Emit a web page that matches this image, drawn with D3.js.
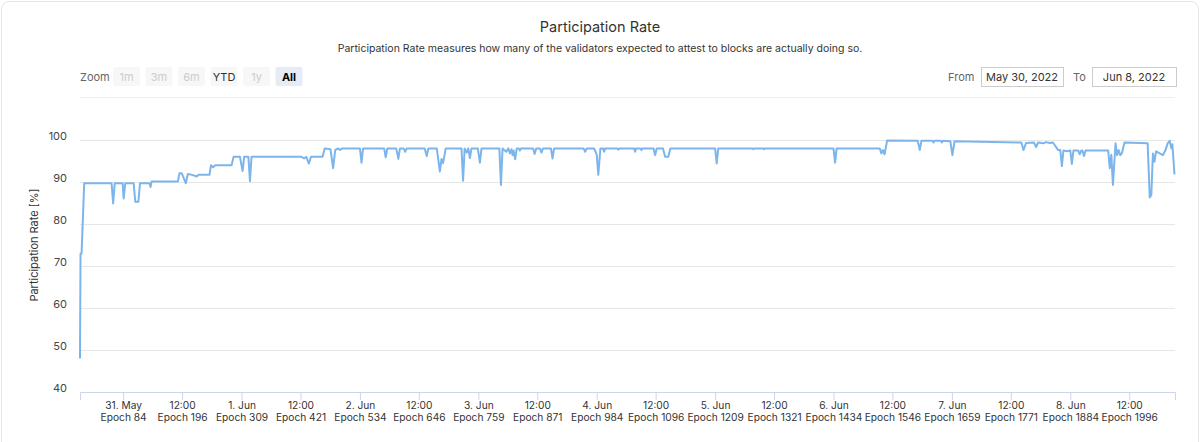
<!DOCTYPE html>
<html>
<head>
<meta charset="utf-8">
<script src="https://cdn.jsdelivr.net/npm/d3@7"></script>
<style>
  body { margin: 0; background: #fff; }
  svg { display: block; font-family: Inter, "Noto Sans", sans-serif; }
</style>
</head>
<body>
<script>
// Participation rate per epoch
const points = [
  [2,48.0],[3,73.0],[5,73.0],[10,89.7],
  [62,89.7],[65,84.9],[68,89.7],
  [83,89.7],[85,86.1],[88,89.7],
  [104,89.7],[107,85.3],[113,85.3],[116,89.7],
  [134,89.7],[136,88.8],[138,90.1],
  [188,90.1],[191,92.1],[195,92.1],[198,91.3],[203,89.7],[207,91.9],[215,91.7],[224,91.3],[227,91.7],
  [248,91.7],[251,94.0],[255,93.5],[259,94.0],
  [290,94.0],[294,96.0],
  [306,96.0],[311,92.6],[314,96.0],
  [322,96.0],[325,90.2],[328,96.0],
  [423,96.0],[428,95.6],[432,96.0],[437,94.4],[441,96.0],
  [463,96.0],[467,98.0],[472,97.9],
  [478,97.8],[483,93.3],[487,97.6],[492,98.0],[496,97.6],[500,98.0],
  [534,98.0],[537,94.6],[540,98.0],
  [580,98.0],[583,95.9],[586,98.0],
  [603,98.0],[607,95.5],[610,98.0],
  [617,98.0],[620,97.2],[623,98.0],
  [657,98.0],[661,96.2],[664,98.0],
  [680,98.0],[686,92.5],[689,95.5],[692,94.5],[697,98.0],
  [727,98.0],[730,90.3],[733,98.0],[737,97.0],[740,98.0],[743,95.7],[746,98.0],
  [758,98.0],[762,94.6],[765,98.0],
  [799,98.0],[802,89.3],[805,98.0],[812,97.2],[816,98.0],[819,96.8],[822,97.8],[824,96.4],[826,97.5],[829,95.4],[832,98.0],
  [836,98.0],[838,97.5],[840,98.0],
  [863,98.0],[866,96.7],[869,98.0],
  [876,98.0],[879,97.0],[882,98.0],
  [897,98.0],[900,95.6],[903,98.0],
  [959,98.0],[962,97.2],[965,98.0],
  [979,98.0],[984,96.5],[987,91.7],[991,98.0],
  [996,98.0],[998,97.2],[1000,98.0],
  [1023,98.0],[1025,97.7],[1027,98.0],
  [1055,98.0],[1057,97.2],[1059,98.0],
  [1067,98.0],[1069,97.6],[1071,98.0],
  [1092,98.0],[1095,96.4],[1098,98.0],
  [1110,98.0],[1114,96.0],[1120,96.0],[1124,98.0],
  [1209,98.0],[1212,94.4],[1215,98.0],
  [1280,98.0],[1282,97.8],[1284,98.0],[1300,98.0],[1302,97.8],[1304,98.0],
  [1434,98.0],[1437,94.6],[1440,98.0],
  [1522,98.0],[1525,96.8],[1528,97.6],[1531,96.6],[1536,99.9],
  [1594,99.8],[1598,97.6],[1601,99.8],
  [1622,99.8],[1624,99.4],[1626,99.8],[1638,99.8],[1640,99.4],[1642,99.8],
  [1656,99.7],[1660,96.4],[1664,99.7],
  [1791,99.4],[1795,97.6],[1800,99.3],
  [1815,99.4],[1819,98.3],[1823,99.4],[1833,99.2],[1838,99.5],[1845,99.3],[1851,99.4],
  [1861,97.6],[1865,97.6],[1868,93.8],[1871,97.5],[1878,97.3],[1884,97.5],[1887,94.3],[1890,97.5],
  [1899,97.5],[1902,96.6],[1905,97.5],[1907,97.5],[1910,96.2],[1913,97.5],
  [1956,97.5],[1959,93.3],[1962,96.5],[1965,89.3],[1970,99.2],[1973,96.4],[1976,97.6],[1979,96.4],[1982,96.8],[1987,99.4],
  [2031,99.2],[2035,86.3],[2038,86.9],[2041,96.8],[2044,94.8],[2047,97.3],[2054,96.8],[2060,96.4],[2065,97.6],
  [2069,99.2],[2073,99.8],[2076,98.0],[2078,99.0],[2082,91.8]
];

// x axis ticks: epoch position, date line, epoch line
const tickEpochs = [84, 196, 309, 421, 534, 646, 759, 871, 984, 1096, 1209, 1321, 1434, 1546, 1659, 1771, 1884, 1996];
const tickDates = ["31. May", "12:00", "1. Jun", "12:00", "2. Jun", "12:00", "3. Jun", "12:00", "4. Jun",
                   "12:00", "5. Jun", "12:00", "6. Jun", "12:00", "7. Jun", "12:00", "8. Jun", "12:00"];
const yTicks = [40, 50, 60, 70, 80, 90, 100];
const zoomButtons = ["1m", "3m", "6m", "YTD", "1y", "All"];

const W = 1200, H = 442;
const plot = {left: 80, right: 1175, top: 98, bottom: 392};

const svg = d3.select("body").append("svg")
  .attr("width", W)
  .attr("height", H);

// card frame
svg.append("rect")
  .attr("x", 1.5).attr("y", 1.5)
  .attr("width", W - 3).attr("height", H + 20)
  .attr("rx", 8)
  .attr("fill", "#fff")
  .attr("stroke", "#e4e4e4");

// titles
svg.append("text")
  .attr("x", 600).attr("y", 32)
  .attr("text-anchor", "middle")
  .attr("font-size", 14.5)
  .attr("fill", "#333")
  .text("Participation Rate");

svg.append("text")
  .attr("x", 600).attr("y", 52)
  .attr("text-anchor", "middle")
  .attr("font-size", 10.5)
  .attr("fill", "#333")
  .text("Participation Rate measures how many of the validators expected to attest to blocks are actually doing so.");

// range selector
svg.append("text")
  .attr("x", 80).attr("y", 81)
  .attr("font-size", 11)
  .attr("fill", "#666")
  .text("Zoom");

const btn = svg.append("g").selectAll("g")
  .data(zoomButtons)
  .join("g")
  .attr("transform", (d, i) => `translate(${113 + i * 32.5},67)`);

btn.append("rect")
  .attr("width", 27).attr("height", 19).attr("rx", 2)
  .attr("fill", d => d == "All" ? "#e6ebf5" : "#f7f7f7");

btn.append("text")
  .attr("x", 13.5).attr("y", 13.5)
  .attr("text-anchor", "middle")
  .attr("font-size", 11)
  .attr("font-weight", d => d == "All" ? "bold" : "normal")
  .attr("fill", d => d == "All" ? "#000" : d == "YTD" ? "#333" : "#ccc")
  .text(d => d);

const inputs = [
  {label: "From", lx: 948, bx: 981, bw: 82, value: "May 30, 2022"},
  {label: "To", lx: 1073, bx: 1092, bw: 84, value: "Jun 8, 2022"}
];
inputs.forEach(inp => {
  svg.append("text")
    .attr("x", inp.lx).attr("y", 81)
    .attr("font-size", 11).attr("fill", "#666")
    .text(inp.label);
  svg.append("rect")
    .attr("x", inp.bx + 0.5).attr("y", 67.5)
    .attr("width", inp.bw).attr("height", 19)
    .attr("fill", "#fff").attr("stroke", "#ccc");
  svg.append("text")
    .attr("x", inp.bx + inp.bw / 2).attr("y", 81)
    .attr("text-anchor", "middle")
    .attr("font-size", 11).attr("fill", "#333")
    .text(inp.value);
});

svg.append("line")
  .attr("x1", plot.left).attr("x2", plot.right)
  .attr("y1", 97.5).attr("y2", 97.5)
  .attr("stroke", "#f0f0f0");

// scales
const x = d3.scaleLinear().domain([2, 2083]).range([plot.left, plot.right]);
const y = d3.scaleLinear().domain([40, 100]).range([plot.bottom, 140]);

// y grid + labels
const yAxis = svg.append("g")
  .attr("transform", `translate(${plot.left},0)`)
  .call(d3.axisLeft(y).tickValues(yTicks).tickSize(-(plot.right - plot.left)).tickPadding(13));
yAxis.select(".domain").remove();
yAxis.selectAll(".tick line").attr("stroke", "#e6e6e6");
yAxis.selectAll(".tick text")
  .attr("font-size", 11)
  .attr("font-family", "Inter, sans-serif")
  .attr("fill", "#444")
  .attr("dy", "-0.05em");

svg.append("text")
  .attr("transform", `translate(38,245) rotate(-90)`)
  .attr("text-anchor", "middle")
  .attr("font-size", 11)
  .attr("fill", "#333")
  .text("Participation Rate [%]");

// x axis
const xAxis = svg.append("g")
  .attr("transform", `translate(0,${plot.bottom})`)
  .call(d3.axisBottom(x).tickValues(tickEpochs).tickSizeOuter(0).tickSize(8).tickFormat(""));
xAxis.select(".domain").attr("stroke", "#ccd6eb");
xAxis.selectAll(".tick line").attr("stroke", "#ccd6eb");
xAxis.selectAll(".tick text").remove();

const xl = xAxis.selectAll(".tick").append("text")
  .attr("text-anchor", "middle")
  .attr("font-size", 10.2)
  .attr("font-family", "Inter, sans-serif")
  .attr("fill", "#333");
xl.append("tspan").attr("x", 0).attr("y", 17).text((d, i) => tickDates[i]);
xl.append("tspan").attr("x", 0).attr("y", 29).text(d => `Epoch ${d}`);

// the series
const line = d3.line()
  .x(d => x(d[0]))
  .y(d => y(d[1]));

svg.append("path")
  .datum(points)
  .attr("fill", "none")
  .attr("stroke", "#7cb5ec")
  .attr("stroke-width", 2)
  .attr("stroke-linejoin", "round")
  .attr("d", line);
</script>
</body>
</html>
